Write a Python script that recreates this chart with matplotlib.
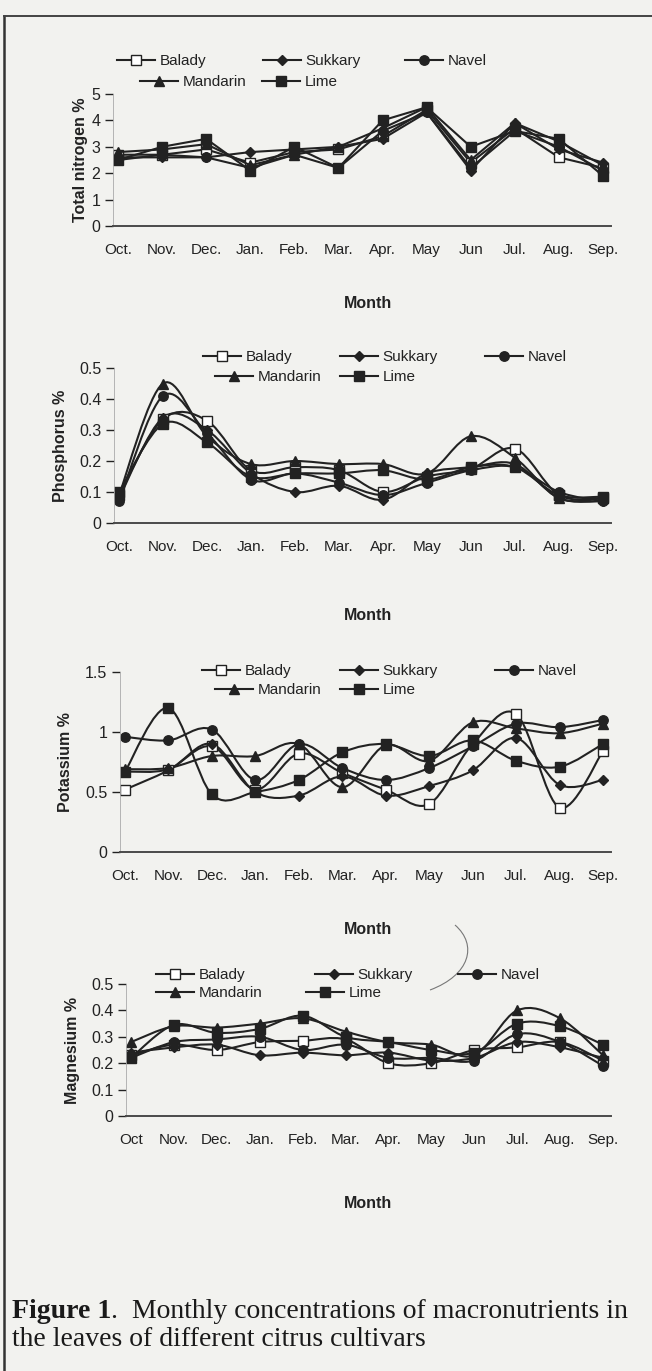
import numpy as np
import matplotlib
matplotlib.use("Agg")
import matplotlib.pyplot as plt
from matplotlib.path import Path
from matplotlib.patches import PathPatch
from matplotlib.lines import Line2D

plt.rcParams['font.family'] = ['Liberation Sans', 'DejaVu Sans']

W, H = 652, 1371
months = ["Oct.", "Nov.", "Dec.", "Jan.", "Feb.", "Mar.", "Apr.", "May", "Jun", "Jul.", "Aug.", "Sep."]
months_mg = ["Oct", "Nov.", "Dec.", "Jan.", "Feb.", "Mar.", "Apr.", "May", "Jun", "Jul.", "Aug.", "Sep."]
cultivars = ["Balady", "Sukkary", "Navel", "Mandarin", "Lime"]

# Total nitrogen %
bal_n = [2.7, 2.7, 2.9, 2.4, 2.8, 2.9, 3.4, 4.4, 2.4, 3.7, 2.6, 2.2]
suk_n = [2.6, 2.6, 2.6, 2.8, 2.9, 3.0, 3.3, 4.3, 2.1, 3.9, 2.9, 2.4]
nav_n = [2.5, 2.7, 2.6, 2.2, 2.7, 2.2, 3.6, 4.3, 2.2, 3.6, 3.0, 2.1]
man_n = [2.8, 2.9, 3.1, 2.3, 2.7, 3.0, 3.7, 4.5, 2.5, 3.9, 3.2, 2.3]
lim_n = [2.5, 3.0, 3.3, 2.1, 3.0, 2.2, 4.0, 4.5, 3.0, 3.6, 3.3, 1.9]

# Phosphorus %
bal_p = [0.09, 0.335, 0.33, 0.17, 0.18, 0.17, 0.10, 0.15, 0.175, 0.24, 0.09, 0.08]
suk_p = [0.08, 0.34, 0.30, 0.16, 0.10, 0.12, 0.075, 0.16, 0.18, 0.19, 0.08, 0.07]
nav_p = [0.07, 0.41, 0.29, 0.14, 0.16, 0.13, 0.09, 0.13, 0.17, 0.18, 0.10, 0.07]
man_p = [0.09, 0.45, 0.28, 0.19, 0.20, 0.19, 0.19, 0.16, 0.28, 0.21, 0.08, 0.08]
lim_p = [0.10, 0.32, 0.26, 0.15, 0.16, 0.16, 0.17, 0.14, 0.18, 0.18, 0.09, 0.085]

# Potassium %
bal_k = [0.52, 0.68, 0.88, 0.52, 0.82, 0.66, 0.52, 0.40, 0.90, 1.15, 0.37, 0.84]
suk_k = [0.67, 0.69, 0.90, 0.50, 0.47, 0.63, 0.47, 0.55, 0.68, 0.95, 0.56, 0.60]
nav_k = [0.96, 0.93, 1.02, 0.60, 0.90, 0.70, 0.60, 0.70, 0.88, 1.07, 1.04, 1.10]
man_k = [0.69, 0.70, 0.80, 0.80, 0.90, 0.54, 0.89, 0.76, 1.08, 1.03, 0.99, 1.07]
lim_k = [0.67, 1.20, 0.48, 0.50, 0.60, 0.83, 0.90, 0.80, 0.93, 0.76, 0.71, 0.90]

# Magnesium %
bal_mg = [0.23, 0.27, 0.25, 0.28, 0.285, 0.29, 0.20, 0.20, 0.25, 0.26, 0.28, 0.21]
suk_mg = [0.24, 0.26, 0.27, 0.23, 0.24, 0.23, 0.24, 0.21, 0.22, 0.28, 0.26, 0.22]
nav_mg = [0.22, 0.28, 0.29, 0.30, 0.25, 0.27, 0.22, 0.22, 0.21, 0.31, 0.28, 0.19]
man_mg = [0.28, 0.34, 0.335, 0.35, 0.37, 0.32, 0.28, 0.27, 0.23, 0.40, 0.37, 0.23]
lim_mg = [0.22, 0.345, 0.315, 0.33, 0.38, 0.30, 0.28, 0.25, 0.24, 0.35, 0.34, 0.27]

ink = "#222222"
bg = "#f2f2ef"
styles = {
    "Balady": dict(marker="s", mfc="white"),
    "Sukkary": dict(marker="D", mfc=ink, ms=5.5),
    "Navel": dict(marker="o", mfc=ink),
    "Mandarin": dict(marker="^", mfc=ink),
    "Lime": dict(marker="s", mfc=ink),
}


def smooth_path(x, y):
    # Excel-like smoothed line as cubic bezier segments
    x = np.asarray(x, float)
    y = np.asarray(y, float)
    n = len(x)
    verts = [(x[0], y[0])]
    codes = [Path.MOVETO]
    for i in range(n - 1):
        i0 = max(i - 1, 0)
        i3 = min(i + 2, n - 1)
        c1 = (x[i] + (x[i + 1] - x[i0]) / 6, y[i] + (y[i + 1] - y[i0]) / 6)
        c2 = (x[i + 1] - (x[i3] - x[i]) / 6, y[i + 1] - (y[i3] - y[i]) / 6)
        verts += [c1, c2, (x[i + 1], y[i + 1])]
        codes += [Path.CURVE4] * 3
    return Path(verts, codes)


fig = plt.figure(figsize=(W / 100, H / 100), dpi=100, facecolor=bg)


def panel(series, labels, ylabel, ymax, yticks, yticklabels, oct_x, y_top, y_zero,
          leg_pos, smooth, ylabel_x, month_y):
    sep_x = 603
    d = (sep_x - oct_x) / 11
    x0, x1 = oct_x - 5, sep_x + 8
    ax = fig.add_axes([x0 / W, 1 - y_zero / H, (x1 - x0) / W, (y_zero - y_top) / H])
    ax.set_facecolor("none")
    ax.set_xlim(-5 / d, 11 + 8 / d)
    ax.set_ylim(0, ymax)
    xs = np.arange(12)
    for name, vals, (lx, ly) in zip(cultivars, series, leg_pos):
        st = styles[name]
        ms = st.get("ms", 6.8)
        if smooth:
            ax.add_patch(PathPatch(smooth_path(xs, vals), fc="none", ec=ink, lw=1.5))
            ax.plot(xs, vals, ls="none", marker=st["marker"], mfc=st["mfc"], mec=ink,
                    ms=ms, mew=1.0)
        else:
            ax.plot(xs, vals, color=ink, lw=1.5, marker=st["marker"], mfc=st["mfc"],
                    mec=ink, ms=ms, mew=1.0)
        h = Line2D([], [], color=ink, lw=1.5, marker=st["marker"], mfc=st["mfc"],
                   mec=ink, ms=ms, mew=1.0)
        # Excel places the legend entries row by row, each row centred
        fig.legend([h], [name], loc="center left", bbox_to_anchor=(lx / W, 1 - ly / H),
                   frameon=False, fontsize=11, handlelength=2.5, handletextpad=0.3,
                   borderpad=0, borderaxespad=0, labelcolor=ink)
    for s in ["top", "right"]:
        ax.spines[s].set_visible(False)
    ax.spines["left"].set_color("#aaaaaa")
    ax.spines["left"].set_linewidth(0.6)
    ax.spines["bottom"].set_color("#4a4a4a")
    ax.spines["bottom"].set_linewidth(1.4)
    ax.set_xticks(xs)
    ax.set_xticklabels(labels, fontsize=11, color=ink)
    ax.tick_params(axis="x", length=0, pad=12)
    ax.set_yticks(yticks)
    ax.set_yticklabels(yticklabels, fontsize=11.5, color=ink)
    ax.tick_params(axis="y", length=6, width=1.0, color=ink, pad=3)
    fig.text(ylabel_x / W, 1 - (y_top + y_zero) / 2 / H, ylabel, rotation=90, fontsize=11.5,
             fontweight="bold", color=ink, ha="center", va="center")
    fig.text(368 / W, 1 - month_y / H, "Month", fontsize=11.5, fontweight="bold",
             color=ink, ha="center", va="center")
    return ax


# legend entry anchors (Balady, Sukkary, Navel, Mandarin, Lime)
leg1 = [(117, 61), (263, 61), (405, 61), (140, 82), (262, 82)]
leg2 = [(203, 357), (340, 357), (485, 357), (215, 377), (340, 377)]
leg3 = [(202, 671), (340, 671), (495, 671), (215, 690), (340, 690)]
leg4 = [(156, 975), (315, 975), (458, 975), (156, 993), (306, 993)]

panel([bal_n, suk_n, nav_n, man_n, lim_n], months, "Total nitrogen %", 5,
      [0, 1, 2, 3, 4, 5], ["0", "1", "2", "3", "4", "5"], 118, 94, 226,
      leg1, False, 80, 304)
panel([bal_p, suk_p, nav_p, man_p, lim_p], months, "Phosphorus %", 0.5,
      [0, 0.1, 0.2, 0.3, 0.4, 0.5], ["0", "0.1", "0.2", "0.3", "0.4", "0.5"], 119, 368, 523,
      leg2, True, 60, 616)
panel([bal_k, suk_k, nav_k, man_k, lim_k], months, "Potassium %", 1.5,
      [0, 0.5, 1, 1.5], ["0", "0.5", "1", "1.5"], 125, 672, 852,
      leg3, True, 66, 930)
panel([bal_mg, suk_mg, nav_mg, man_mg, lim_mg], months_mg, "Magnesium %", 0.5,
      [0, 0.1, 0.2, 0.3, 0.4, 0.5], ["0", "0.1", "0.2", "0.3", "0.4", "0.5"], 131, 984, 1116,
      leg4, True, 72, 1204)

# page border of the scanned figure
fig.add_artist(Line2D([4 / W, 4 / W], [0, 1 - 16 / H], color="#333333", lw=1.8))
fig.add_artist(Line2D([4 / W, 1], [1 - 16 / H, 1 - 16 / H], color="#444444", lw=1.4))

# pen stroke on the scan
arc = Path([(455 / W, 1 - 925 / H), (478 / W, 1 - 945 / H), (470 / W, 1 - 975 / H),
            (430 / W, 1 - 990 / H)], [Path.MOVETO, Path.CURVE4, Path.CURVE4, Path.CURVE4])
fig.add_artist(PathPatch(arc, fc="none", ec="#777777", lw=0.8, transform=fig.transFigure))

# caption
cap1 = fig.text(12 / W, 1 - 1311 / H, "Figure 1", fontsize=20, fontweight="bold",
                family="Liberation Serif", color="#1a1a1a", va="center")
r = fig.canvas.get_renderer()
bb = cap1.get_window_extent(r)
fig.text(bb.x1 / W, 1 - 1311 / H, ".  Monthly concentrations of macronutrients in",
         fontsize=20, family="Liberation Serif", color="#1a1a1a", va="center")
fig.text(12 / W, 1 - 1340 / H, "the leaves of different citrus cultivars", fontsize=20,
         family="Liberation Serif", color="#1a1a1a", va="center")

fig.savefig("out.png", dpi=100, facecolor=bg)
